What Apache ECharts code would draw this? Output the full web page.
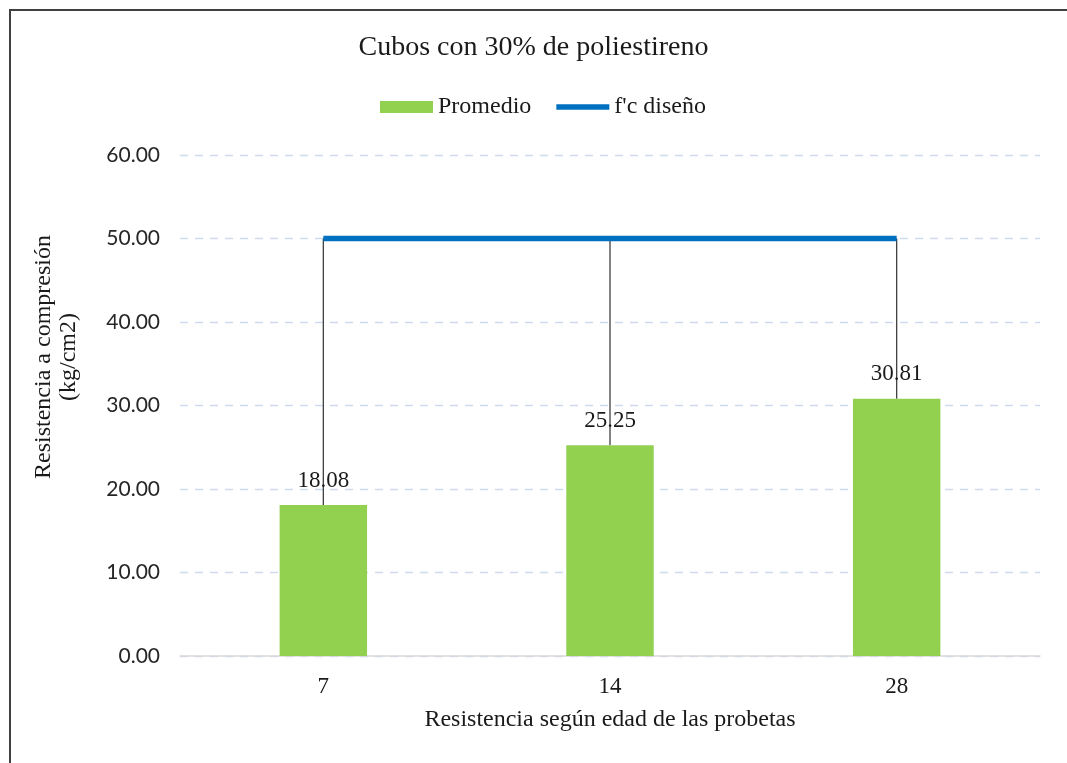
<!DOCTYPE html>
<html><head><meta charset="utf-8">
<script src="https://cdn.jsdelivr.net/npm/echarts@6/dist/echarts.min.js"></script>
<style>html,body{margin:0;padding:0;background:#fff}#c{width:1067px;height:763px}</style>
</head><body><div id="c"></div>
<script>
const categories = ['7', '14', '28'];
const promedio = [18.08, 25.25, 30.81];
const fcDiseno = [50, 50, 50];
const titleText = 'Cubos con 30% de poliestireno';
const yName = ['Resistencia a compresión', '(kg/cm2)'];
const xName = 'Resistencia según edad de las probetas';

const serif = '"Liberation Serif","DejaVu Serif",serif';
const chart = echarts.init(document.getElementById('c'));
chart.setOption({
  animation: false,
  backgroundColor: '#fff',
  title: { text: titleText, left: 'center', top: 29, textStyle: { fontFamily: serif, fontSize: 28, fontWeight: 'normal', color: '#1a1a1a' } },
  legend: {
    top: 90, left: 375, itemGap: 25,
    textStyle: { fontFamily: serif, fontSize: 24, color: '#1a1a1a' },
    data: [
      { name: 'Promedio', icon: 'rect', itemStyle: { color: '#92D050' } },
      { name: "f'c diseño", icon: 'path://M0,0 L56,0 L56,6 L0,6 Z', itemStyle: { color: '#0070C0' } }
    ],
    itemWidth: 53, itemHeight: 12
  },
  grid: { left: 180, right: 27, top: 155, bottom: 107 },
  xAxis: {
    type: 'category', data: categories,
    axisLine: { lineStyle: { color: '#d9d9d9', width: 1.5 } },
    axisTick: { show: false },
    axisLabel: { fontFamily: serif, fontSize: 23, color: '#1a1a1a', margin: 19 },
    name: xName, nameLocation: 'middle', nameGap: 52,
    nameTextStyle: { fontFamily: serif, fontSize: 24, color: '#1a1a1a' }
  },
  yAxis: {
    type: 'value', min: 0, max: 60, interval: 10,
    axisLine: { show: false }, axisTick: { show: false },
    splitLine: { lineStyle: { color: '#cfdaf0', type: [8, 7], width: 1.3 } },
    axisLabel: { formatter: v => v.toFixed(2), fontFamily: 'Lato,"Open Sans",sans-serif', fontSize: 21, color: '#262626', margin: 20 }
  },
  graphic: [
    { type: 'rect', shape: { x: 10, y: 10, width: 1200, height: 900 }, style: { fill: 'none', stroke: '#404040', lineWidth: 2 }, z: 100 },
    { type: 'text', x: 44, y: 357, rotation: Math.PI / 2, style: { text: yName[0], fontFamily: serif, fontSize: 24, fill: '#1a1a1a', align: 'center', verticalAlign: 'middle' } },
    { type: 'text', x: 69, y: 357, rotation: Math.PI / 2, style: { text: yName[1], fontFamily: serif, fontSize: 24, fill: '#1a1a1a', align: 'center', verticalAlign: 'middle' } }
  ],
  series: [
    {
      name: 'drop', type: 'custom', z: 1, silent: true,
      data: categories.map((c, i) => [i, promedio[i], fcDiseno[i]]),
      renderItem: (params, api) => {
        const top = api.coord([api.value(0), api.value(2)]);
        const bot = api.coord([api.value(0), api.value(1)]);
        return { type: 'line', shape: { x1: top[0], y1: top[1], x2: bot[0], y2: bot[1] }, style: { stroke: '#404040', lineWidth: 1.3 } };
      }
    },
    {
      name: 'Promedio', type: 'bar', data: promedio, barWidth: '30.5%', z: 2,
      itemStyle: { color: '#92D050' },
      label: { show: true, position: 'top', distance: 13, formatter: p => p.value.toFixed(2), fontFamily: serif, fontSize: 23, color: '#1a1a1a' }
    },
    {
      name: "f'c diseño", type: 'line', data: fcDiseno, z: 3,
      lineStyle: { color: '#0070C0', width: 5.5 }, itemStyle: { color: '#0070C0' },
      symbol: 'none'
    }
  ]
});
</script></body></html>
